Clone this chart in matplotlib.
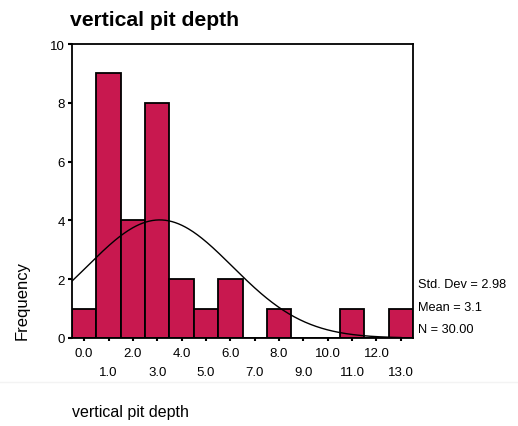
import numpy as np
import matplotlib
matplotlib.use("Agg")
import matplotlib.pyplot as plt

plt.rcParams['font.family'] = ['Liberation Sans', 'DejaVu Sans']

# histogram of vertical pit depth, bins of width 1 centred on 0..13
bin_centers = [0, 1, 2, 3, 4, 5, 6, 7, 8, 9, 10, 11, 12, 13]
counts = [1, 9, 4, 8, 2, 1, 2, 0, 1, 0, 0, 1, 0, 1]
std_dev = 2.98
mean = 3.1
n_obs = 30

bar_color = '#c8184f'

fig = plt.figure(figsize=(5.18, 4.27), dpi=100)
W, H = 518, 427
left, right, top, bottom = 72, 413, 45, 339
ax = fig.add_axes([left / W, (H - bottom) / H, (right - left) / W, (bottom - top) / H])

ax.bar(bin_centers, counts, width=1.0, color=bar_color, edgecolor='black', linewidth=1.3)

# fitted normal curve scaled to counts
xs = np.linspace(-0.5, 13, 300)
ys = n_obs * 1.0 / (std_dev * np.sqrt(2 * np.pi)) * np.exp(-(xs - mean) ** 2 / (2 * std_dev ** 2))
ax.plot(xs, ys, color='black', linewidth=1.0)

ax.set_xlim(-0.5, 13.5)
ax.set_ylim(0, 10)
ax.set_yticks([0, 2, 4, 6, 8, 10])
ax.set_yticklabels(['0', '2', '4', '6', '8', '10'])

even = [c for c in bin_centers if c % 2 == 0]
odd = [c for c in bin_centers if c % 2 == 1]
ax.set_xticks(even)
ax.set_xticklabels(['%.1f' % v for v in even])
ax.set_xticks(odd, minor=True)
ax.set_xticklabels(['%.1f' % v for v in odd], minor=True)

ax.tick_params(axis='x', which='major', length=2.5, width=1.5, pad=4, labelsize=9.5)
ax.tick_params(axis='x', which='minor', length=2.5, width=1.5, pad=18, labelsize=9.5)
ax.tick_params(axis='y', length=3, width=1.5, pad=2, labelsize=9.5)

for s in ax.spines.values():
    s.set_linewidth(1.3)

fig.text(70 / W, 1 - 20 / H, 'vertical pit depth', fontsize=15.2, fontweight='bold',
         ha='left', va='center')
fig.text(22 / W, 1 - 301 / H, 'Frequency', fontsize=12, rotation=90,
         ha='center', va='center')

stats = [('Std. Dev = %.2f' % std_dev, 285), ('Mean = %.1f' % mean, 308),
         ('N = %.2f' % n_obs, 330)]
for txt, yp in stats:
    fig.text(418 / W, 1 - yp / H, txt, fontsize=9.2, ha='left', va='center')

fig.add_artist(plt.Line2D([0, 1], [1 - 383 / H, 1 - 383 / H], color='#f3f3f3', linewidth=1))
fig.text(72 / W, 1 - 413 / H, 'vertical pit depth', fontsize=11.5, ha='left', va='center')

fig.savefig('out.png', dpi=100)
